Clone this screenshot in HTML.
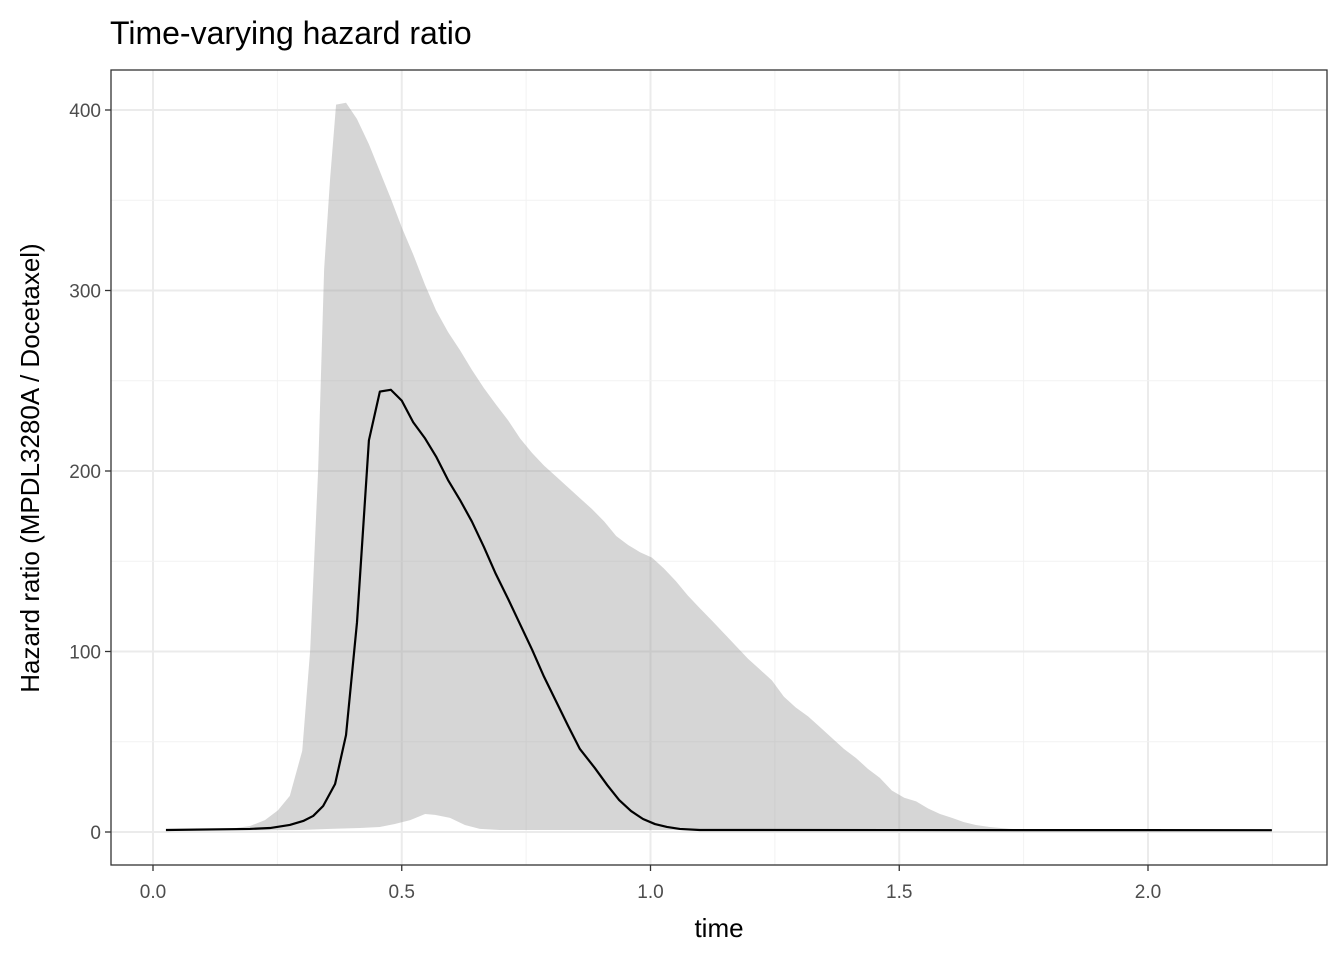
<!DOCTYPE html>
<html><head><meta charset="utf-8"><style>
body{margin:0;background:#fff;}
svg{display:block;font-family:"Liberation Sans",sans-serif;}
</style></head><body>
<svg id="chart" width="1344" height="960"></svg>
<script>
const xTicks=[0,0.5,1.0,1.5,2.0];
const xTickLabels=["0.0","0.5","1.0","1.5","2.0"];
const yTicks=[0,100,200,300,400];
const yTickLabels=["0","100","200","300","400"];
const lineT=[0.026,0.195,0.235,0.275,0.302,0.322,0.342,0.366,0.388,0.410,0.434,0.456,0.478,0.500,0.523,0.547,0.569,0.593,0.617,0.641,0.665,0.689,0.714,0.738,0.762,0.786,0.810,0.834,0.858,0.888,0.913,0.937,0.961,0.985,1.009,1.033,1.059,1.099,2.249];
const lineV=[1.1,1.7,2.2,3.9,6.1,8.9,14.4,26.6,53.7,116,217,244,245,239,227,218,208,195,184,172,158,143,129,115,101,86,72.5,59,46,35.5,26,17.7,11.6,7.2,4.4,2.8,1.7,1.1,1];
const upperT=[0.026,0.155,0.195,0.225,0.251,0.275,0.300,0.316,0.332,0.344,0.356,0.368,0.388,0.410,0.434,0.456,0.478,0.500,0.523,0.547,0.569,0.593,0.617,0.641,0.665,0.689,0.714,0.738,0.762,0.786,0.810,0.834,0.858,0.882,0.907,0.931,0.955,0.979,1.003,1.027,1.051,1.075,1.099,1.124,1.148,1.172,1.196,1.220,1.244,1.268,1.292,1.317,1.341,1.365,1.389,1.413,1.437,1.461,1.485,1.510,1.534,1.558,1.582,1.606,1.630,1.654,1.682,1.723,1.783,2.249];
const upperV=[1.1,1.7,3.3,6.6,12,20,45,101,201,312,362,403,404,395,381,366,351,335,320,303,289,277,267,256,246,237,228,218,210,203,197,191,185,179,172,164,159,155,152,146,139,131,124,117,110,103,96,90,84,75,69,64,58,52,46,41,35,30,23,19,17,13,10,7.8,5.5,3.9,2.8,1.7,1.1,1];
const lowerT=[0.026,0.295,0.356,0.416,0.456,0.486,0.517,0.547,0.567,0.597,0.627,0.657,0.697,2.249];
const lowerV=[0.6,1.1,1.7,2.2,2.8,4.4,6.6,10,9.5,7.8,3.9,1.7,1.1,1];

const NS="http://www.w3.org/2000/svg";
const svg=document.getElementById('chart');
const L=111,R=1327,T=70,B=865;
const X=t=>153+t*497.5;
const Y=v=>832-v*1.805;
function mk(tag,attrs,parent){const e=document.createElementNS(NS,tag);for(const k in attrs)e.setAttribute(k,attrs[k]);(parent||svg).appendChild(e);return e;}

const grid=mk('g',{});


for(let i=0;i<xTicks.length;i++){
  const mx=X(xTicks[i]+0.25);
  if(mx<R) mk('line',{x1:mx,x2:mx,y1:T,y2:B,stroke:'#f2f2f2','stroke-width':1},grid);
  mk('line',{x1:X(xTicks[i]),x2:X(xTicks[i]),y1:T,y2:B,stroke:'#ebebeb','stroke-width':2},grid);
}
for(let i=0;i<yTicks.length;i++){
  const my=Y(yTicks[i]+50);
  if(my>T) mk('line',{x1:L,x2:R,y1:my,y2:my,stroke:'#f2f2f2','stroke-width':1},grid);
  mk('line',{x1:L,x2:R,y1:Y(yTicks[i]),y2:Y(yTicks[i]),stroke:'#ebebeb','stroke-width':2},grid);
}
let d='M'+upperT.map((t,i)=>X(t)+','+Y(upperV[i])).join(' L');
for(let i=lowerT.length-1;i>=0;i--)d+=' L'+X(lowerT[i])+','+Y(lowerV[i]);
d+=' Z';
const rib=mk('path',{d:d,fill:'#999999','fill-opacity':0.4,stroke:'none'});


const ln=mk('polyline',{points:lineT.map((t,i)=>X(t)+','+Y(lineV[i])).join(' '),fill:'none',stroke:'#000','stroke-width':2.2,'stroke-linejoin':'round'});


const bd=mk('rect',{x:L,y:T,width:R-L,height:B-T,fill:'none',stroke:'#333','stroke-width':1.3});


for(let i=0;i<xTicks.length;i++){
  mk('line',{x1:X(xTicks[i]),x2:X(xTicks[i]),y1:B,y2:B+6,stroke:'#333','stroke-width':1.3});
  const t=mk('text',{x:X(xTicks[i]),y:B+33,'text-anchor':'middle','font-size':19,fill:'#4d4d4d'});
  t.textContent=xTickLabels[i];
  
  
}
for(let i=0;i<yTicks.length;i++){
  mk('line',{x1:L-6,x2:L,y1:Y(yTicks[i]),y2:Y(yTicks[i]),stroke:'#333','stroke-width':1.3});
  const t=mk('text',{x:L-10,y:Y(yTicks[i])+7,'text-anchor':'end','font-size':19,fill:'#4d4d4d'});
  t.textContent=yTickLabels[i];
  
  
}
</script>
<svg style="position:absolute;left:0;top:0" width="1344" height="960">
<text x="110" y="44" font-size="32" font-family="Liberation Sans, sans-serif" fill="#000">Time-varying hazard ratio</text>
<text x="719" y="937" font-size="26" text-anchor="middle" font-family="Liberation Sans, sans-serif" fill="#000">time</text>
<text transform="translate(39,468) rotate(-90)" font-size="26" text-anchor="middle" font-family="Liberation Sans, sans-serif" fill="#000">Hazard ratio (MPDL3280A / Docetaxel)</text>
</svg>
</body></html>
